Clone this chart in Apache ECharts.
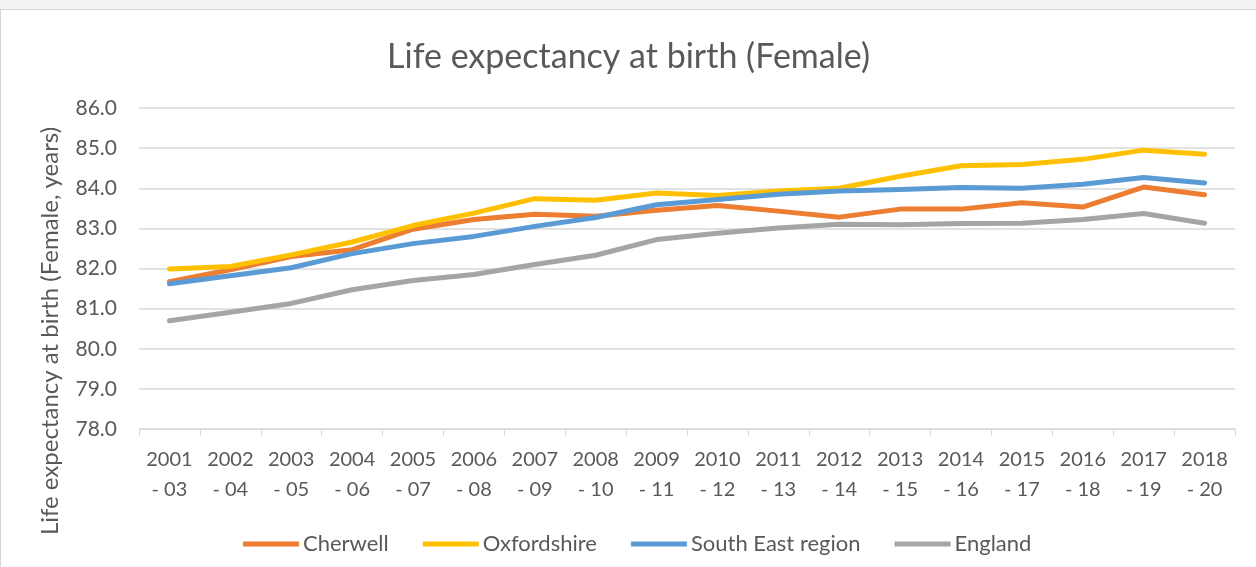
<!DOCTYPE html>
<html>
<head>
<meta charset="utf-8">
<script src="https://cdn.jsdelivr.net/npm/echarts@6/dist/echarts.min.js"></script>
<style>
  html, body { margin: 0; padding: 0; background: #f3f3f3; width: 1256px; height: 567px; overflow: hidden; }
  #chart { position: absolute; left: 0; top: 9px; width: 1255px; height: 557px; background: #fff; border-left: 1px solid #d6d6d6; border-top: 1px solid #d6d6d6; }
</style>
</head>
<body>
<div id="chart"></div>
<script>
const categories = ['2001\n- 03','2002\n- 04','2003\n- 05','2004\n- 06','2005\n- 07','2006\n- 08','2007\n- 09','2008\n- 10','2009\n- 11','2010\n- 12','2011\n- 13','2012\n- 14','2013\n- 15','2014\n- 16','2015\n- 17','2016\n- 18','2017\n- 19','2018\n- 20'];
const cherwell    = [81.67, 81.97, 82.30, 82.47, 82.98, 83.22, 83.35, 83.30, 83.45, 83.57, 83.43, 83.28, 83.48, 83.48, 83.64, 83.53, 84.03, 83.84];
const oxfordshire = [81.99, 82.05, 82.34, 82.66, 83.07, 83.38, 83.74, 83.70, 83.88, 83.82, 83.93, 84.00, 84.30, 84.56, 84.59, 84.72, 84.95, 84.85];
const southEast   = [81.62, 81.82, 82.02, 82.37, 82.62, 82.80, 83.05, 83.27, 83.59, 83.72, 83.85, 83.93, 83.97, 84.02, 84.00, 84.10, 84.27, 84.13];
const england     = [80.70, 80.91, 81.13, 81.47, 81.70, 81.85, 82.10, 82.33, 82.72, 82.88, 83.01, 83.10, 83.09, 83.12, 83.13, 83.22, 83.37, 83.13];
const seriesNames = ['Cherwell', 'Oxfordshire', 'South East region', 'England'];
const colors = ['#ED7D31', '#FFC000', '#5B9BD5', '#A5A5A5'];

const FONT = 'Lato';
const TXT = '#595959';
const chart = echarts.init(document.getElementById('chart'), null, { renderer: 'canvas' });
const dataSets = [cherwell, oxfordshire, southEast, england];
chart.setOption({
  animation: false,
  color: colors,
  title: {
    text: 'Life expectancy at birth (Female)',
    left: 'center',
    top: 25,
    textStyle: { fontFamily: FONT, fontSize: 34, fontWeight: 'normal', color: TXT }
  },
  grid: { left: 138, right: 21, top: 98, bottom: 138 },
  legend: {
    left: 237,
    top: 518,
    icon: 'rect',
    itemWidth: 56,
    itemHeight: 5,
    itemGap: 34,
    textStyle: { fontFamily: FONT, fontSize: 22, color: TXT, padding: [0, 0, 0, -1] },
    data: seriesNames
  },
  xAxis: {
    type: 'category',
    data: categories,
    boundaryGap: true,
    axisLine: { lineStyle: { color: '#d9d9d9', width: 1 } },
    axisTick: { show: true, length: 7, lineStyle: { color: '#d9d9d9' } },
    axisLabel: { fontFamily: FONT, fontSize: 20, color: TXT, lineHeight: 30, margin: 16, interval: 0 }
  },
  yAxis: {
    type: 'value',
    min: 78, max: 86, interval: 1,
    axisLine: { show: false },
    axisTick: { show: false },
    splitLine: { lineStyle: { color: '#d9d9d9', width: 1.5 } },
    axisLabel: { fontFamily: FONT, fontSize: 21, color: TXT, margin: 22, formatter: v => v.toFixed(1) }
  },
  graphic: [{
    type: 'text',
    x: 49, y: 321,
    rotation: Math.PI / 2,
    style: { text: 'Life expectancy at birth (Female, years)', align: 'center', verticalAlign: 'middle', fontFamily: FONT, fontSize: 24, fill: TXT }
  }],
  series: seriesNames.map((n, i) => ({
    name: n,
    type: 'line',
    data: dataSets[i],
    showSymbol: false,
    symbol: 'none',
    lineStyle: { width: 5, cap: 'round', join: 'round', color: colors[i] },
    itemStyle: { color: colors[i] }
  }))
});
</script>
</body>
</html>
